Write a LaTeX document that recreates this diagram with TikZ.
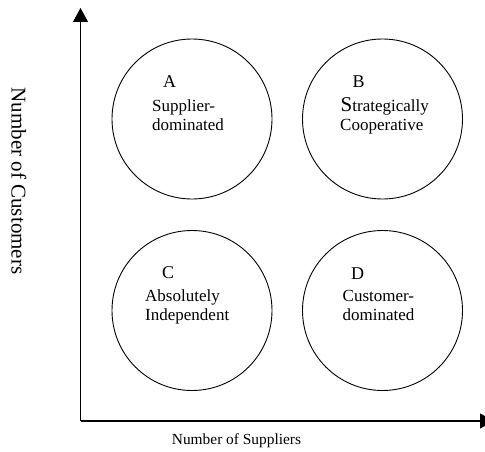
\documentclass[tikz,border=0pt]{standalone}
\usepackage{fontspec}
\setmainfont{Liberation Serif}
\usetikzlibrary{arrows.meta}

\begin{document}
\begin{tikzpicture}[x=1pt,y=-1pt,
  quad/.style={draw, circle, line width=0.9pt, minimum size=160pt, inner sep=0pt},
  letter/.style={anchor=base west, inner sep=0pt, font=\fontsize{18}{18}\selectfont},
  body/.style={anchor=base west, inner sep=0pt, font=\fontsize{17}{19}\selectfont},
  axis/.style={line width=1.1pt, -{Triangle[length=14pt,width=15pt]}}]
  \useasboundingbox (0,0) rectangle (485,452);

  % axes
  \coordinate (origin) at (80.5,421);
  \coordinate (ytip) at (80.5,8);
  \coordinate (xtip) at (494,421);
  \draw[axis] (origin) -- (ytip);
  \draw[axis] (origin) -- (xtip);

  % axis titles
  \node[rotate=-90, inner sep=0pt, font=\fontsize{21}{21}\selectfont] (ylab) at (19,181) {Number of Customers};
  \node[inner sep=0pt, font=\fontsize{15.4}{16}\selectfont] (xlab) at (236.5,441) {Number of Suppliers};

  % quadrants
  \node[quad] (qa) at (192,119) {};
  \node[quad] (qb) at (382.5,119) {};
  \node[quad] (qc) at (192,310.5) {};
  \node[quad] (qd) at (382.5,310.5) {};

  % quadrant A
  \node[letter] (la) at (163,88) {A};
  \node[body] (ta1) at (152,111.5) {Supplier-};
  \node[body] (ta2) at (152,130.7) {dominated};

  % quadrant B
  \node[letter] (lb) at (352.5,88) {B};
  \node[body] (tb1) at (340.5,111.7) {{\fontsize{21}{21}\selectfont S}trategically};
  \node[body] (tb2) at (340,130.7) {Cooperative};

  % quadrant C
  \node[letter] (lc) at (162,278.3) {C};
  \node[body] (tc1) at (145,301.7) {Absolutely};
  \node[body] (tc2) at (145,320.7) {Independent};

  % quadrant D
  \node[letter] (ld) at (351,279) {D};
  \node[body] (td1) at (342.5,301.7) {Customer-};
  \node[body] (td2) at (342.5,320.7) {dominated};
\end{tikzpicture}
\end{document}
